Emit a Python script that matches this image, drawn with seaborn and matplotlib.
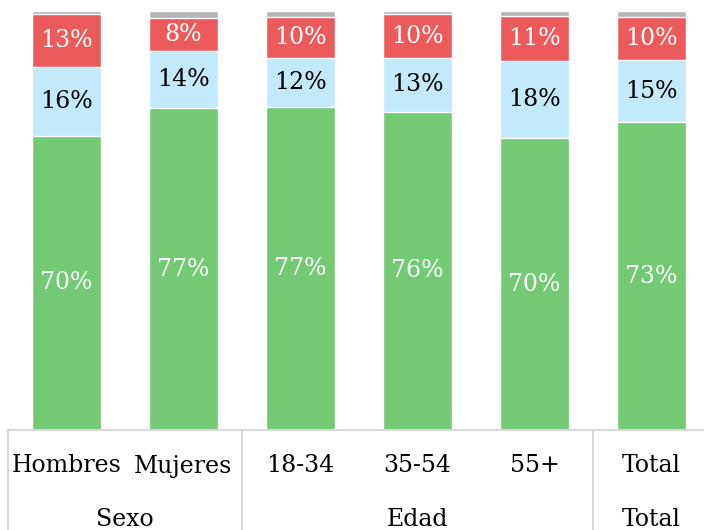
"""
Stacked 100% bars by Sexo / Edad / Total.
"""
import matplotlib
matplotlib.use("Agg")
import matplotlib.pyplot as plt
import numpy as np
import pandas as pd
import seaborn as sns

categories = ["Hombres", "Mujeres", "18-34", "35-54", "55+", "Total"]
groups = ["Sexo", "Edad", "Total"]
group_members = [[0, 1], [2, 3, 4], [5]]

green = [70.2, 76.8, 77.1, 75.9, 69.6, 73.4]
blue = [16.5, 13.6, 11.7, 12.9, 18.4, 14.8]
red = [12.6, 7.9, 9.8, 10.4, 10.7, 10.4]
grey = [100 - g - b - r for g, b, r in zip(green, blue, red)]

C_GREEN = "#73C974"
C_BLUE = "#C3E9FC"
C_RED = "#EC5B5B"
C_GREY = "#B4B4B4"
LINE = "#D9D9D9"

sns.set_theme(style="white")
plt.rcParams["font.family"] = ["DejaVu Serif"]
plt.rcParams["text.color"] = "black"

W, H = 704, 530
fig = plt.figure(figsize=(W / 100, H / 100), dpi=100)
ax = fig.add_axes([8 / W, 100 / H, 696 / W, 419 / H])

df = pd.DataFrame({"cat": categories, "green": green, "blue": blue,
                   "red": red, "grey": grey})
df["c_blue"] = df["green"] + df["blue"]
df["c_red"] = df["c_blue"] + df["red"]
df["c_grey"] = df["c_red"] + df["grey"]

for col, color in [("c_grey", C_GREY), ("c_red", C_RED),
                   ("c_blue", C_BLUE), ("green", C_GREEN)]:
    sns.barplot(data=df, x="cat", y=col, color=color, width=0.59,
                saturation=1, ax=ax, order=categories)

# segment labels
for i, row in df.iterrows():
    for lo, val, tc in [(0, row["green"], "white"),
                        (row["green"], row["blue"], "black"),
                        (row["c_blue"], row["red"], "white")]:
        ax.text(i, lo + val / 2, f"{val:.0f}%", ha="center", va="center",
                color=tc, fontsize=17)

ax.set_xlim(-0.5, (W - 66.5) / 117)
ax.set_ylim(0, 100)
ax.set_xlabel("")
ax.set_ylabel("")
ax.set_xticks([])
ax.set_yticks([])
for s in ["top", "right", "left"]:
    ax.spines[s].set_visible(False)
ax.spines["bottom"].set_color(LINE)
ax.spines["bottom"].set_linewidth(1.5)

# category / group axis below bars
trans = ax.get_xaxis_transform()
for sep in [-0.5, 1.5, 4.5]:
    ax.plot([sep, sep], [0, -100 / 419], transform=trans, color=LINE,
            lw=1.5, clip_on=False)
for i, cat in enumerate(categories):
    ax.text(i, -36 / 419, cat, transform=trans, ha="center", va="center",
            fontsize=17, color="black")
for g, members in zip(groups, group_members):
    ax.text(np.mean(members), -90 / 419, g, transform=trans, ha="center",
            va="center", fontsize=17, color="black")

fig.savefig("out.png", dpi=100)
